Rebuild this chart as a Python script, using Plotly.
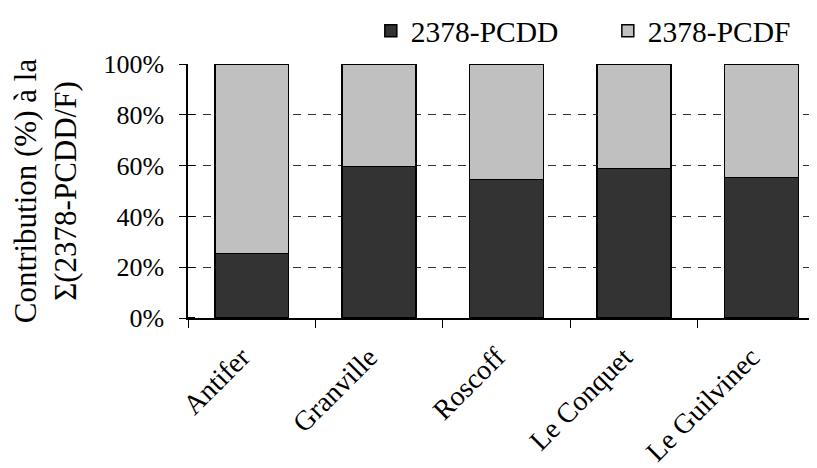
import plotly.graph_objects as go

sites = ["Antifer", "Granville", "Roscoff", "Le Conquet", "Le Guilvinec"]
pcdd = [25.4, 59.7, 54.6, 58.9, 55.3]
pcdf = [100 - v for v in pcdd]
y_ticks = [0, 20, 40, 60, 80, 100]
y_tick_labels = ["0%", "20%", "40%", "60%", "80%", "100%"]

FONT = "Liberation Serif"

fig = go.Figure()
fig.add_trace(go.Bar(x=sites, y=pcdd, name="2378-PCDD",
                     marker=dict(color="#333333", line=dict(color="#000000", width=1.5))))
fig.add_trace(go.Bar(x=sites, y=pcdf, name="2378-PCDF",
                     marker=dict(color="#C0C0C0", line=dict(color="#000000", width=1.5))))

fig.update_layout(
    width=817, height=468,
    barmode="stack", bargap=0.42,
    plot_bgcolor="white", paper_bgcolor="white",
    margin=dict(l=180, r=0, t=56, b=158, autoexpand=False),
    font=dict(family=FONT, size=26, color="black"),
    legend=dict(orientation="h", x=0.287, xanchor="left", y=1.13, yanchor="middle",
                font=dict(size=29.5), entrywidth=192, entrywidthmode="pixels",
                traceorder="normal"),
    xaxis=dict(range=[-0.5, 4.5], showline=True, linecolor="black", linewidth=1.5,
               ticks="outside", ticklen=8, tickcolor="black",
               tickson="boundaries", tickangle=-45, showgrid=False,
               ticksuffix="\u00a0\u00a0", ticklabelstandoff=0,
               automargin=False, tickfont=dict(size=28)),
    yaxis=dict(range=[0, 100], tickvals=y_ticks, ticktext=y_tick_labels,
               showline=True, linecolor="black", linewidth=1.5,
               ticks="outside", ticklen=7, tickcolor="black",
               minor=dict(ticks="inside", tickvals=[v + 0.01 for v in y_ticks],
                          ticklen=7, tickcolor="black", showgrid=False),
               ticklabelstandoff=10, automargin=False,
               showgrid=True, gridcolor="#333333", griddash="8px,7px", gridwidth=1,
               zeroline=False, tickfont=dict(size=26),
               title=dict(text="Contribution (%) à la<br>Σ(2378-PCDD/F)",
                          font=dict(size=31), standoff=20)),
)

fig.write_html("out.html")
